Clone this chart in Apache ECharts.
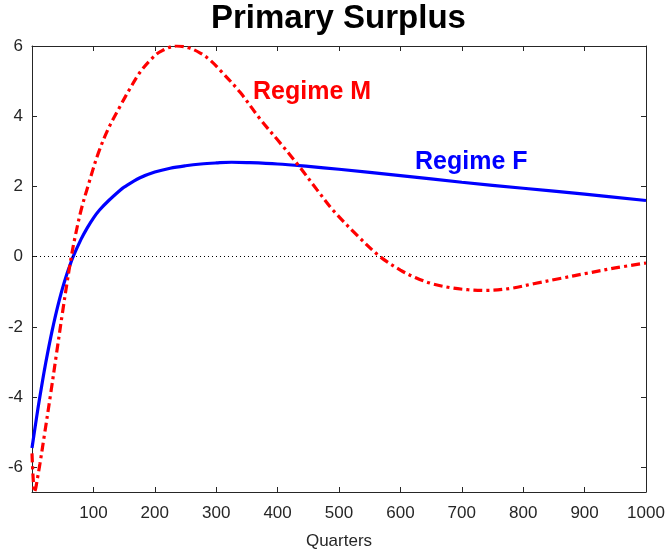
<!DOCTYPE html>
<html>
<head>
<meta charset="utf-8">
<script src="https://cdn.jsdelivr.net/npm/echarts@6/dist/echarts.min.js"></script>
<style>
html,body{margin:0;padding:0;background:#fff;}
#chart{width:669px;height:549px;}
</style>
</head>
<body>
<div id="chart"></div>
<script>
// Regime F (blue, solid)
var fQuarters = [0, 5, 10, 15, 20, 25, 30, 35, 40, 45, 50, 55, 60, 67, 80, 90, 100, 110, 125, 144, 150, 175, 200, 225, 250, 275, 300, 325, 350, 400, 450, 500, 600, 700, 800, 900, 1000];
var fValues   = [-5.45, -4.86, -4.29, -3.76, -3.25, -2.78, -2.34, -1.93, -1.55, -1.2, -0.88, -0.59, -0.33, 0, 0.5, 0.82, 1.1, 1.33, 1.6, 1.9, 1.98, 2.24, 2.41, 2.52, 2.59, 2.64, 2.67, 2.69, 2.68, 2.64, 2.57, 2.49, 2.31, 2.12, 1.95, 1.78, 1.6];
// Regime M (red, dash-dot)
var mQuarters = [0, 2, 4, 6, 9, 13, 20, 30, 40, 50, 57, 64, 70, 80, 91, 108, 125, 144, 160, 177, 195, 209, 235, 255, 274, 290, 307, 339, 372, 405, 434, 464, 491, 530, 567, 600, 625, 650, 681, 710, 740, 780, 817, 860, 904, 950, 1000];
var mValues   = [-5.6, -6.35, -6.7, -6.6, -6.3, -5.89, -5.1, -3.95, -2.75, -1.55, -0.75, 0, 0.55, 1.33, 2.0, 2.95, 3.67, 4.3, 4.8, 5.28, 5.64, 5.84, 6.0, 5.95, 5.8, 5.6, 5.3, 4.68, 3.91, 3.22, 2.6, 1.91, 1.31, 0.6, 0, -0.38, -0.6, -0.76, -0.88, -0.94, -0.96, -0.9, -0.77, -0.62, -0.47, -0.32, -0.18];
// Axis ticks
var yTicks = [-6, -4, -2, 0, 2, 4, 6];
var xMin = 0, xMax = 1000, xStep = 100;
var yMin = -6.7, yMax = 6;
var titleText = 'Primary Surplus';
var xName = 'Quarters';
var labelM = 'Regime M';
var labelF = 'Regime F';

function pairs(xs, ys){ return xs.map(function(x,i){ return [x, ys[i]]; }); }

var axisColor = '#262626';
var font = 'Liberation Sans, Arial, sans-serif';
var chart = echarts.init(document.getElementById('chart'), null, {renderer:'canvas'});
chart.setOption({
  animation: false,
  backgroundColor: '#fff',
  grid: {left: 32, right: 23, top: 46, bottom: 57, containLabel: false, outerBoundsMode: 'none'},
  xAxis: [{
    type: 'value', min: xMin, max: xMax, interval: xStep, position: 'bottom',
    name: xName, nameLocation: 'middle', nameGap: 41,
    nameTextStyle: {fontFamily: font, fontSize: 17, color: '#262626'},
    axisLine: {show: true, onZero: false, lineStyle: {color: axisColor, width: 1}},
    axisTick: {show: true, inside: true, length: 5, lineStyle: {color: axisColor}},
    axisLabel: {show: true, margin: 13, fontFamily: font, fontSize: 17, color: '#262626',
      formatter: function(v){ return v === 0 ? '' : String(v); }},
    splitLine: {show: false}
  }, {
    type: 'value', min: xMin, max: xMax, interval: xStep, position: 'top',
    axisLine: {show: true, onZero: false, lineStyle: {color: axisColor, width: 1}},
    axisTick: {show: true, inside: true, length: 5, lineStyle: {color: axisColor}},
    axisLabel: {show: false}, splitLine: {show: false}
  }],
  yAxis: [{
    type: 'value', min: yMin, max: yMax, position: 'left',
    axisLine: {show: true, onZero: false, lineStyle: {color: axisColor, width: 1}},
    axisTick: {show: true, inside: true, length: 5, customValues: yTicks, lineStyle: {color: axisColor}},
    axisLabel: {show: true, margin: 9, fontFamily: font, fontSize: 17, color: '#262626', customValues: yTicks,
      padding: [7, 0, 0, 0]},
    splitLine: {show: false}
  }, {
    type: 'value', min: yMin, max: yMax, position: 'right',
    axisLine: {show: true, onZero: false, lineStyle: {color: axisColor, width: 1}},
    axisTick: {show: true, inside: true, length: 5, customValues: yTicks, lineStyle: {color: axisColor}},
    axisLabel: {show: false}, splitLine: {show: false}
  }],
  series: [{
    name: 'Regime F', type: 'line', xAxisIndex: 0, yAxisIndex: 0,
    data: pairs(fQuarters, fValues), showSymbol: false, symbol: 'none',
    smooth: 0.35, clip: true,
    lineStyle: {color: '#0000ff', width: 3.2},
    markLine: {
      silent: true, symbol: 'none', label: {show: false},
      lineStyle: {color: '#000', type: [1, 3], width: 1},
      data: [{yAxis: 0}]
    }
  }, {
    name: 'Regime M', type: 'line', xAxisIndex: 0, yAxisIndex: 0,
    data: pairs(mQuarters, mValues), showSymbol: false, symbol: 'none',
    smooth: 0.35, clip: true,
    lineStyle: {color: '#ff0000', width: 3.2, type: [9, 4, 3, 4]}
  }],
  graphic: [{
    type: 'text', left: 211, top: 2,
    style: {text: titleText, fill: '#000', font: 'bold 33px ' + font}
  }, {
    type: 'text', left: 253, top: 80,
    style: {text: labelM, fill: '#ff0000', font: 'bold 25px ' + font}
  }, {
    type: 'text', left: 415, top: 150,
    style: {text: labelF, fill: '#0000ff', font: 'bold 25px ' + font}
  }]
});
</script>
</body>
</html>
